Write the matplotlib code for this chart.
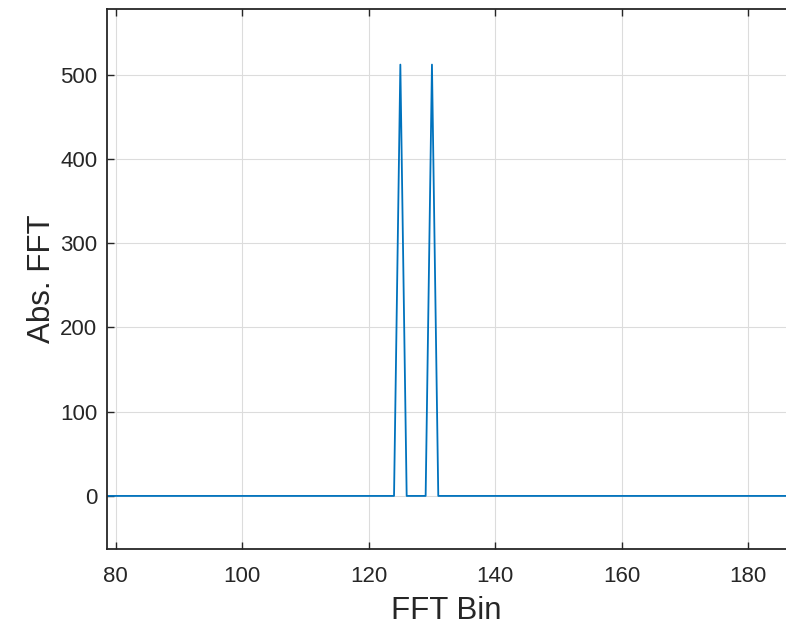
import numpy as np
import matplotlib
matplotlib.use("Agg")
import matplotlib.pyplot as plt

# ---- Data ----
fft_bins = np.arange(60, 200)
abs_fft = np.zeros(len(fft_bins))
peak_bins = [125, 130]
peak_vals = [512, 512]
for b, v in zip(peak_bins, peak_vals):
    abs_fft[fft_bins == b] = v

x_ticks = [80, 100, 120, 140, 160, 180]
y_ticks = [0, 100, 200, 300, 400, 500]

# ---- Style ----
plt.rcParams['font.family'] = ['Liberation Sans', 'DejaVu Sans']
axis_col = "#262626"

fig = plt.figure(figsize=(7.86, 6.26), dpi=100)
ax = fig.add_axes([107/786, 77/626, (786-107)/786, (549-9)/626])

ax.plot(fft_bins, abs_fft, color="#0072BD", lw=1.3)

ax.set_xlim(78.6, 186)
ax.set_ylim(-63, 578)
ax.set_xticks(x_ticks)
ax.set_yticks(y_ticks)
ax.grid(True, color="#dcdcdc", lw=0.8)
ax.set_axisbelow(True)

for s in ["left", "bottom", "top"]:
    ax.spines[s].set_color(axis_col)
    ax.spines[s].set_linewidth(1.3)
ax.spines["right"].set_visible(False)
ax.tick_params(direction="in", length=5, width=1, colors=axis_col,
               labelsize=16, top=True, right=False)
ax.tick_params(axis="x", pad=12)
ax.tick_params(axis="y", pad=7)

ax.set_xlabel("FFT Bin", fontsize=22.5, color=axis_col, labelpad=7)
ax.set_ylabel("Abs. FFT", fontsize=22.5, color=axis_col, labelpad=2)

fig.savefig("out.png", dpi=100)
